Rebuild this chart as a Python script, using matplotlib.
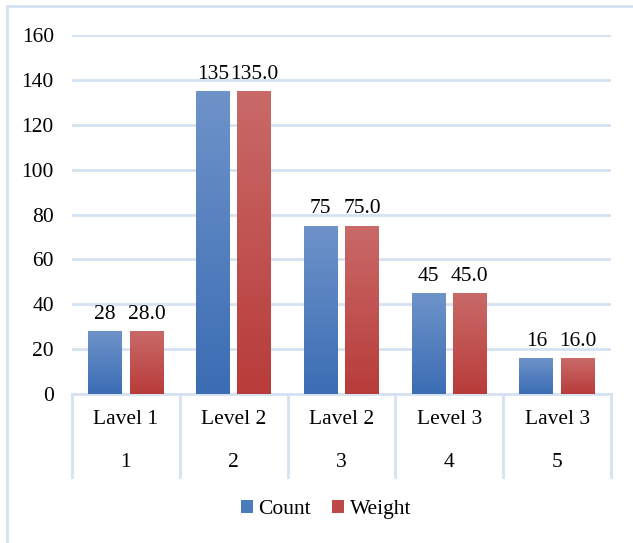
import numpy as np
import matplotlib.pyplot as plt
from matplotlib.colors import LinearSegmentedColormap
from matplotlib.lines import Line2D
from matplotlib.patches import Patch

plt.rcParams['font.family'] = ['Liberation Serif', 'DejaVu Serif']

levels = ['Lavel 1', 'Level 2', 'Lavel 2', 'Level 3', 'Lavel 3']
ids = ['1', '2', '3', '4', '5']
count = [28, 135, 75, 45, 16]
weight = [28.0, 135.0, 75.0, 45.0, 16.0]
yticks = [0, 20, 40, 60, 80, 100, 120, 140, 160]

grid_c = '#d6e2f2'
blue_top, blue_bot = '#6e93c9', '#3b6db4'
red_top, red_bot = '#c96a68', '#b83c3a'
fs = 15.5

fig = plt.figure(figsize=(6.33, 5.43), dpi=100)
ax = fig.add_axes([0.1137, 0.2744, 0.8515, 0.6611])

x = np.arange(len(ids))
w = 0.315
off = 0.034


def gradient_bars(xs, vals, top, bot):
    cmap = LinearSegmentedColormap.from_list('g', [bot, top])
    bars = ax.bar(xs, vals, width=w, color=bot, zorder=2)
    for b in bars:
        grad = np.linspace(0, 1, 100).reshape(-1, 1)
        im = ax.imshow(grad, cmap=cmap, origin='lower', aspect='auto',
                       extent=[b.get_x(), b.get_x() + b.get_width(), 0, b.get_height()],
                       zorder=3)
        im.set_clip_path(b)
    return bars


gradient_bars(x - w / 2 - off, count, blue_top, blue_bot)
gradient_bars(x + w / 2 + off, weight, red_top, red_bot)

for i in range(len(ids)):
    ax.text(x[i] - w / 2 - off, count[i] + 3.3, f'{count[i]}', ha='center', va='bottom', fontsize=fs)
    ax.text(x[i] + w / 2 + off, weight[i] + 3.3, f'{weight[i]:.1f}', ha='center', va='bottom', fontsize=fs)

ax.set_xlim(-0.5, len(ids) - 0.5)
ax.set_ylim(0, 160)
ax.set_yticks(yticks)
ax.set_yticklabels([str(t) for t in yticks], fontsize=fs)
ax.tick_params(axis='y', length=0, pad=13)
ax.tick_params(axis='x', length=0, labelbottom=False)
ax.grid(axis='y', color=grid_c, linewidth=2, zorder=0)
for s in ['top', 'right', 'left']:
    ax.spines[s].set_visible(False)
ax.spines['bottom'].set_color(grid_c)
ax.spines['bottom'].set_linewidth(2)

# two-level category axis below the plot
for k in range(len(ids) + 1):
    ax.add_line(Line2D([k - 0.5, k - 0.5], [0, -37], color=grid_c, lw=2,
                       transform=ax.transData, clip_on=False))
for i in range(len(ids)):
    ax.text(x[i], -11.5, levels[i], ha='center', va='center', fontsize=fs)
    ax.text(x[i], -30.5, ids[i], ha='center', va='center', fontsize=fs)

handles = [Patch(facecolor='#4a7bbd', label='Count'),
           Patch(facecolor='#be4a48', label='Weight')]
fig.legend(handles=handles, loc='center', bbox_to_anchor=(0.515, 0.062), ncol=2,
           frameon=False, fontsize=fs, handlelength=0.55, handleheight=0.55,
           handletextpad=0.25, columnspacing=1.0)

# chart border
fig.add_artist(Line2D([0.0103, 0.0103], [0.0, 0.989], color=grid_c, lw=2,
                      transform=fig.transFigure))
fig.add_artist(Line2D([0.0103, 1.0], [0.989, 0.989], color=grid_c, lw=2,
                      transform=fig.transFigure))

fig.savefig('out.png', dpi=100)
